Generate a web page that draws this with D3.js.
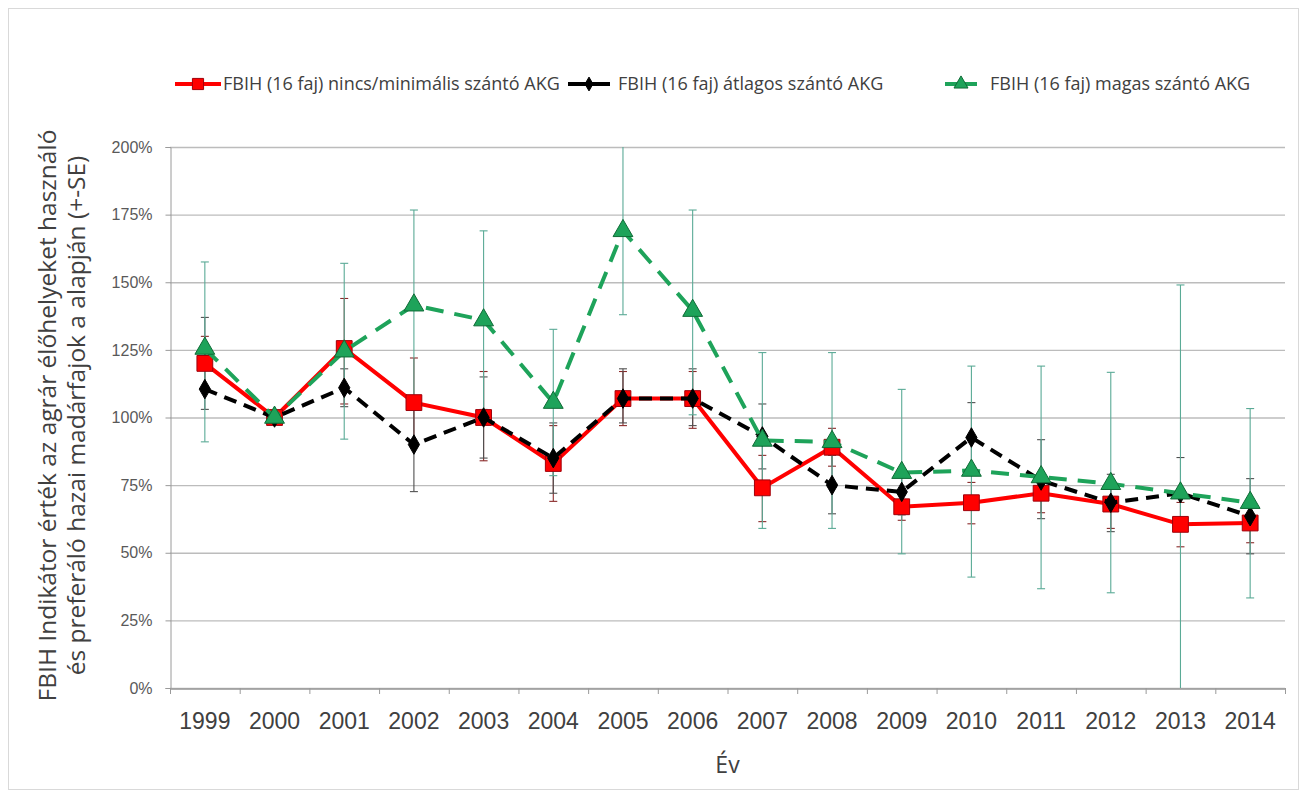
<!DOCTYPE html>
<html>
<head>
<meta charset="utf-8">
<script src="https://cdn.jsdelivr.net/npm/d3@7"></script>
<style>
  body { margin: 0; background: #fff; }
  svg { display: block; font-family: "Open Sans", Lato, sans-serif; }
</style>
</head>
<body>
<svg width="1303" height="794"></svg>
<script>
var years = ["1999", "2000", "2001", "2002", "2003", "2004", "2005", "2006", "2007", "2008", "2009", "2010", "2011", "2012", "2013", "2014"];
var yTicks = [0, 25, 50, 75, 100, 125, 150, 175, 200];

// nincs/minimális szántó AKG
var redValues = [120, 100, 125.5, 105.5, 100, 83, 107, 107, 74, 89, 67, 68.5, 72, 68, 60.5, 61];
var redLo = [110, null, 105, 89, 84, 69, 97, 96, 61.5, 82, 62, 60.7, 64.8, 59, 52.2, 53.7];
var redHi = [130, null, 144, 122, 117, 97, 117, 117, 86, 96, 72, 76, 79, 77, 68.6, 68];

// átlagos szántó AKG
var blackValues = [110.5, 100, 111, 90, 100, 85, 107, 107, 93, 75, 72.5, 92.6, 76.7, 68.5, 72, 63.5];
var blackLo = [103, null, 104, 72.6, 85, 72, 98, 97, 81, 64.4, 64, 80, 62.6, 57.8, 58, 49.6];
var blackHi = [137, null, 118, 107, 115, 98, 118, 118, 105, 86, 81, 105.5, 91.8, 79, 85.2, 77.4];

// magas szántó AKG
var greenValues = [125.5, 100, 124.5, 141.5, 136, 105.5, 169, 139.5, 91.5, 91, 79.6, 80.4, 78, 75.5, 72, 68.5];
var greenLo = [91, null, 92, 106, 103, 78.5, 138, 101, 59, 59, 49.6, 41, 36.7, 35.2, 0, 33.3];
var greenHi = [157.5, null, 157, 176.7, 169, 132.6, 200, 176.7, 124, 124, 110.4, 119, 119, 116.7, 149, 103.3];

var legendLabels = [
  "FBIH (16 faj) nincs/minimális szántó AKG",
  "FBIH (16 faj) átlagos szántó AKG",
  "FBIH (16 faj) magas szántó AKG"
];

var svg = d3.select("svg"),
    margin = {top: 147, right: 18, bottom: 106, left: 170},
    width = svg.attr("width") - margin.left - margin.right,
    height = svg.attr("height") - margin.top - margin.bottom;

function build(values, lo, hi) {
  return years.map(function(yr, i) {
    return {year: yr, value: values[i], lo: lo[i], hi: hi[i]};
  });
}

var series = [
  {name: legendLabels[0], data: build(redValues, redLo, redHi), stroke: "#ff0000", dash: null,
   marker: d3.symbolSquare, size: 250, fill: "#ff0000", edge: "#a0000a", err: "#8a2a2a"},
  {name: legendLabels[1], data: build(blackValues, blackLo, blackHi), stroke: "#000000", dash: "13,8",
   marker: d3.symbolDiamond, size: 110, fill: "#000000", edge: "#000000", err: "#505050"},
  {name: legendLabels[2], data: build(greenValues, greenLo, greenHi), stroke: "#1ea35a", dash: "18,11",
   marker: d3.symbolTriangle, size: 170, fill: "#1ea35a", edge: "#0f6b36", err: "#5aaa96"}
];

svg.append("rect")
    .attr("x", 8.5).attr("y", 8.5)
    .attr("width", 1290).attr("height", 781)
    .attr("fill", "none")
    .attr("stroke", "#d9d9d9");

var x = d3.scaleBand().domain(years).range([0, width]),
    y = d3.scaleLinear().domain([0, 200]).range([height, 0]);

var g = svg.append("g")
    .attr("transform", "translate(" + margin.left + "," + margin.top + ")");

// gridlines
g.append("g")
    .selectAll("line")
    .data(yTicks)
    .enter().append("line")
      .attr("x1", 0).attr("x2", width)
      .attr("y1", function(d) { return y(d) + 0.5; })
      .attr("y2", function(d) { return y(d) + 0.5; })
      .attr("stroke", "#bcbcbc")
      .attr("stroke-width", 1.3);

// y axis
var yAxis = g.append("g")
    .attr("class", "axis axis--y")
    .attr("transform", "translate(0.5,0)")
    .call(d3.axisLeft(y).tickValues(yTicks).tickSize(5).tickFormat(function(d) { return d + "%"; }));
yAxis.select(".domain").attr("stroke", "#9a9a9a");
yAxis.selectAll(".tick line").attr("stroke", "#9a9a9a");
yAxis.selectAll("text")
    .attr("x", -18)
    .style("font-size", "16px")
    .style("fill", "#595959");

// x axis, ticks between categories
var xAxis = g.append("g")
    .attr("class", "axis axis--x")
    .attr("transform", "translate(0," + (height + 0.5) + ")")
    .call(d3.axisBottom(x).tickSize(0).tickSizeOuter(0));
xAxis.select(".domain").attr("stroke", "#9a9a9a").attr("stroke-width", 1.3);
xAxis.selectAll("text")
    .attr("y", 24)
    .style("font-size", "23px")
    .style("fill", "#404040");

g.append("g")
    .selectAll("line")
    .data(years.concat(["end"]))
    .enter().append("line")
      .attr("x1", function(d, i) { return x.step() * i + 0.5; })
      .attr("x2", function(d, i) { return x.step() * i + 0.5; })
      .attr("y1", height)
      .attr("y2", height + 6)
      .attr("stroke", "#9a9a9a");

// error bars
series.forEach(function(s) {
  var eb = g.append("g").attr("class", "errorbars");
  var rows = s.data.filter(function(d) { return d.lo !== null; });
  var cx = function(d) { return x(d.year) + x.bandwidth() / 2; };
  eb.selectAll(".bar")
    .data(rows)
    .enter().append("line")
      .attr("x1", cx).attr("x2", cx)
      .attr("y1", function(d) { return y(d.lo); })
      .attr("y2", function(d) { return y(d.hi); })
      .attr("stroke", s.err)
      .attr("stroke-width", 1.1);
  ["lo", "hi"].forEach(function(k) {
    eb.selectAll(".cap-" + k)
      .data(rows.filter(function(d) { return d[k] > 0 && d[k] < 200; }))
      .enter().append("line")
        .attr("x1", function(d) { return cx(d) - 4; })
        .attr("x2", function(d) { return cx(d) + 4; })
        .attr("y1", function(d) { return y(d[k]); })
        .attr("y2", function(d) { return y(d[k]); })
        .attr("stroke", s.err)
        .attr("stroke-width", 1.1);
  });
});

var line = d3.line()
    .x(function(d) { return x(d.year) + x.bandwidth() / 2; })
    .y(function(d) { return y(d.value); });

series.forEach(function(s) {
  g.append("path")
      .datum(s.data)
      .attr("fill", "none")
      .attr("stroke", s.stroke)
      .attr("stroke-width", 4)
      .attr("stroke-dasharray", s.dash)
      .attr("d", line);

  g.append("g")
    .selectAll("path")
    .data(s.data)
    .enter().append("path")
      .attr("transform", function(d) {
        return "translate(" + (x(d.year) + x.bandwidth() / 2) + "," + y(d.value) + ")";
      })
      .attr("d", d3.symbol().type(s.marker).size(s.size))
      .attr("fill", s.fill)
      .attr("stroke", s.edge)
      .attr("stroke-width", 1);
});

// legend
var legendX = [175, 568, 945],
    legendLineW = [46, 42, 32],
    legendTextGap = [2, 8, 13];
var legend = svg.append("g").attr("transform", "translate(0,84)");
series.forEach(function(s, i) {
  var lg = legend.append("g").attr("transform", "translate(" + legendX[i] + ",0)");
  lg.append("line")
      .attr("x1", 0).attr("x2", legendLineW[i])
      .attr("y1", 0).attr("y2", 0)
      .attr("stroke", s.stroke)
      .attr("stroke-width", 4);
  lg.append("path")
      .attr("transform", "translate(" + (legendLineW[i] / 2) + ",0)")
      .attr("d", d3.symbol().type(s.marker).size(s.size * 0.5))
      .attr("fill", s.fill)
      .attr("stroke", s.edge);
  lg.append("text")
      .attr("x", legendLineW[i] + legendTextGap[i])
      .attr("dy", "0.35em")
      .style("font-size", "18px")
      .style("fill", "#404040")
      .text(s.name);
});

// axis titles
svg.append("text")
    .attr("x", margin.left + width / 2)
    .attr("y", 773)
    .attr("text-anchor", "middle")
    .style("font-size", "23px")
    .style("fill", "#404040")
    .text("Év");

var yTitle = svg.append("text")
    .attr("transform", "translate(0," + (margin.top + height / 2 - 2) + ") rotate(-90)")
    .attr("text-anchor", "middle")
    .style("font-size", "24.5px")
    .style("fill", "#404040");
yTitle.append("tspan").attr("x", 0).attr("y", 56)
    .text("FBIH Indikátor érték az agrár élőhelyeket használó");
yTitle.append("tspan").attr("x", 0).attr("y", 85)
    .text("és preferáló hazai madárfajok a alapján (+-SE)");
</script>
</body>
</html>
